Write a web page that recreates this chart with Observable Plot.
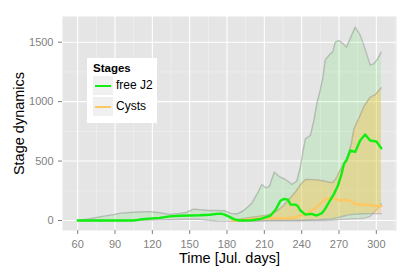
<!DOCTYPE html>
<html>
<head>
<meta charset="utf-8">
<script src="https://cdn.jsdelivr.net/npm/d3@7"></script>
<script src="https://cdn.jsdelivr.net/npm/@observablehq/plot@0.6"></script>
<style>
  body { margin: 0; background: white; }
  #wrap { position: relative; width: 413px; height: 276px; font-family: "Liberation Sans", Arial, sans-serif; }
  #legend { position: absolute; left: 87px; top: 58px; width: 70px; height: 65px; background: white; }
  #legend .title { position: absolute; left: 6px; top: 4px; font-weight: bold; font-size: 11.5px; color: #000; }
  #legend .key { position: absolute; left: 6px; width: 20px; height: 19px; background: #f0f0f0; }
  #legend .key span { position: absolute; left: 2px; right: 2px; top: 8.5px; height: 2.5px; }
  #legend .lab { position: absolute; left: 29px; font-size: 12px; color: #000; }
</style>
</head>
<body>
<div id="wrap">
  <div id="chart"></div>
  <div id="legend">
    <div class="title">Stages</div>
    <div class="key" style="top:18px"><span style="background:#11ee11"></span></div>
    <div class="lab" style="top:20px">free J2</div>
    <div class="key" style="top:39px"><span style="background:#ffc760"></span></div>
    <div class="lab" style="top:41px">Cysts</div>
  </div>
</div>
<script>
// ---- data ----
const xTicks = [60, 90, 120, 150, 180, 210, 240, 270, 300];
const yTicks = [0, 500, 1000, 1500];
const xMinor = [75, 105, 135, 165, 195, 225, 255, 285, 315];
const yMinor = [250, 750, 1250];

// free J2 mean line
const j2Days = [60, 70, 80, 90, 100, 105, 110, 120, 126, 134, 142, 150, 158, 166, 172, 175, 178, 182, 186, 190, 200, 207, 212, 215, 219, 223, 226, 229, 231, 235, 237, 239, 243, 248, 252, 256, 258, 262, 266, 269, 272, 274, 276, 279, 283, 287, 291, 295, 300, 304];
const j2Mean = [0, 0, 0, 0, 0, 0, 8, 18, 22, 35, 40, 42, 44, 48, 56, 58, 50, 30, 10, 0, 2, 14, 30, 42, 90, 168, 182, 175, 135, 134, 120, 84, 50, 56, 42, 60, 84, 154, 224, 290, 390, 477, 505, 589, 577, 673, 723, 673, 665, 608];

// free J2 ribbon
const j2BandDays = [60, 70, 80, 89, 95, 105, 118, 126, 134, 142, 148, 153, 158, 165, 172, 178, 183, 188, 193, 200, 205, 208, 211, 214, 218, 222, 226, 229, 232, 236, 239, 241, 243, 247, 250, 252.5, 255, 257, 259, 262, 265, 267, 270, 273, 276, 279, 283, 287, 291, 295, 298, 301, 304];
const j2Upper = [0, 15, 35, 50, 62, 70, 75, 65, 52, 60, 70, 95, 92, 84, 84, 82, 60, 55, 80, 146, 240, 303, 275, 285, 406, 370, 350, 330, 303, 330, 450, 580, 687, 715, 850, 1000, 1100, 1200, 1351, 1390, 1420, 1500, 1514, 1490, 1458, 1530, 1626, 1560, 1440, 1309, 1318, 1360, 1416];
const j2Lower = [0, 0, 0, 0, 0, 2, 4, 5, 6, 8, 10, 10, 10, 2, -4, -5, -5, -5, -5, -5, -4, -3, -2, -1, 0, 0, 0, 0, 0, 0, 0, 0, 0, 0, 0, 0, 0, 0, 0, 1, 2, 4, 8, 10, 12, 14, 16, 18, 22, 35, 70, 100, 142];

// Cysts mean line
const cystDays = [184, 190, 200, 210, 220, 230, 236, 240, 244, 248, 252, 256, 259, 264, 268, 271, 274, 277, 280, 283, 288, 293, 297, 301, 304];
const cystMean = [0, 2, 12, 18, 20, 20, 30, 45, 56, 85, 112, 150, 180, 190, 178, 168, 172, 174, 160, 138, 133, 133, 128, 121, 120];

// Cysts ribbon
const cystBandDays = [184, 195, 205, 212, 216, 220, 225, 230, 235, 239, 243, 247, 252, 257, 262, 265, 268, 271, 274, 277, 280, 282, 286, 290, 295, 299, 304];
const cystUpper = [0, 20, 35, 45, 55, 80, 120, 180, 240, 300, 345, 345, 342, 335, 322, 320, 360, 426, 480, 540, 650, 771, 860, 959, 1037, 1057, 1116];
const cystLower = [0, 0, 0, 0, 0, 0, 0, 0, 0, 0, 2, 4, 5, 8, 12, 15, 22, 30, 38, 45, 50, 52, 55, 57, 58, 58, 58];

// ---- build tables ----
const j2Line = j2Days.map((d, i) => ({day: d, v: j2Mean[i]}));
const j2Band = j2BandDays.map((d, i) => ({day: d, lo: j2Lower[i], hi: j2Upper[i]}));
const cystLine = cystDays.map((d, i) => ({day: d, v: cystMean[i]}));
const cystBand = cystBandDays.map((d, i) => ({day: d, lo: cystLower[i], hi: cystUpper[i]}));

const outline = {stroke: "#9a9a9a", strokeOpacity: 0.55, strokeWidth: 1.4};

const chart = Plot.plot({
  width: 413,
  height: 276,
  marginLeft: 62,
  marginRight: 17,
  marginTop: 16,
  marginBottom: 46,
  x: {domain: [47.8, 316.2]},
  y: {domain: [-84, 1716]},
  style: {fontFamily: "'Liberation Sans', Arial, sans-serif", background: "white", overflow: "visible"},
  marks: [
    Plot.frame({fill: "#e5e5e5", stroke: null}),
    Plot.gridX(xMinor, {stroke: "#f2f2f2", strokeOpacity: 1, strokeWidth: 0.6}),
    Plot.gridY(yMinor, {stroke: "#f2f2f2", strokeOpacity: 1, strokeWidth: 0.6}),
    Plot.gridX(xTicks, {stroke: "white", strokeOpacity: 1, strokeWidth: 1.1}),
    Plot.gridY(yTicks, {stroke: "white", strokeOpacity: 1, strokeWidth: 1.1}),
    Plot.areaY(j2Band, {x: "day", y1: "lo", y2: "hi", fill: "#00e000", fillOpacity: 0.11}),
    Plot.line(j2Band, {x: "day", y: "hi", ...outline}),
    Plot.line(j2Band, {x: "day", y: "lo", ...outline}),
    Plot.areaY(cystBand, {x: "day", y1: "lo", y2: "hi", fill: "#ffbe3c", fillOpacity: 0.36}),
    Plot.line(cystBand, {x: "day", y: "hi", ...outline}),
    Plot.line(cystBand, {x: "day", y: "lo", ...outline}),
    Plot.line(cystLine, {x: "day", y: "v", stroke: "#ffc760", strokeWidth: 2.4}),
    Plot.line(j2Line, {x: "day", y: "v", stroke: "#11ee11", strokeWidth: 2.4}),
    Plot.axisX(xTicks, {tickSize: 4, tickPadding: 6, fontSize: 11, color: "#7f7f7f", label: null, tickFormat: d => String(d)}),
    Plot.axisY(yTicks, {tickSize: 4, tickPadding: 5, fontSize: 11, color: "#7f7f7f", label: null, tickFormat: d => String(d)}),
    Plot.text(["Time [Jul. days]"], {frameAnchor: "bottom", dy: 28, lineAnchor: "middle", textAnchor: "middle", fontSize: 14.5, fill: "black"}),
    Plot.text(["Stage dynamics"], {frameAnchor: "left", dx: -43, rotate: -90, lineAnchor: "middle", textAnchor: "middle", fontSize: 14.5, fill: "black"})
  ]
});
document.getElementById("chart").appendChild(chart);
</script>
</body>
</html>
